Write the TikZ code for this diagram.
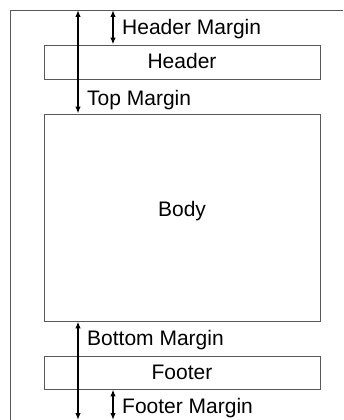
\documentclass[tikz,border=0pt]{standalone}
\usepackage{fontspec}
\setmainfont{Liberation Sans}
\usetikzlibrary{arrows.meta,positioning,calc}

\begin{document}
\begin{tikzpicture}[
    x=1pt, y=-1pt,
    >={Latex[length=7pt,width=5.5pt]},
    font=\fontsize{21}{25}\selectfont,
    area/.style={
        draw=black!65,
        line width=0.9pt,
        minimum width=276pt,
        inner sep=0pt
    },
    page/.style={draw=black!65, line width=0.9pt},
    dim/.style={<->, line width=1.4pt},
    lbl/.style={anchor=base west, inner sep=0pt}
]
\useasboundingbox (0,0) rectangle (343,420);

% page outline
\draw[page] (343,10) -- (10,10) -- (10,420);

% areas of the page
\node[area, minimum height=34pt] (header) at (182,62) {};
\node[area, minimum height=207pt] (body) at (182,217.5) {};
\node[area, minimum height=33pt] (footer) at (182,372.5) {};

\node[lbl, anchor=base] at (182,68) {Header};
\node[lbl, anchor=base] at (182,216) {Body};
\node[lbl, anchor=base] at (182,379) {Footer};

% page edges
\coordinate (topA) at (78,10);
\coordinate (topB) at (113,10);
\coordinate (botA) at (78,420);
\coordinate (botB) at (113,420);

% margins
\draw[dim] (topB) -- (topB |- header.north);
\draw[dim] (topA) -- (topA |- body.north);
\draw[dim] (botA |- body.south) -- (botA);
\draw[dim] (botB |- footer.south) -- (botB);

\node[lbl] at (122,35) {Header Margin};
\node[lbl] at (87,105) {Top Margin};
\node[lbl] at (87,345) {Bottom Margin};
\node[lbl] at (122,413) {Footer Margin};

\end{tikzpicture}
\end{document}
